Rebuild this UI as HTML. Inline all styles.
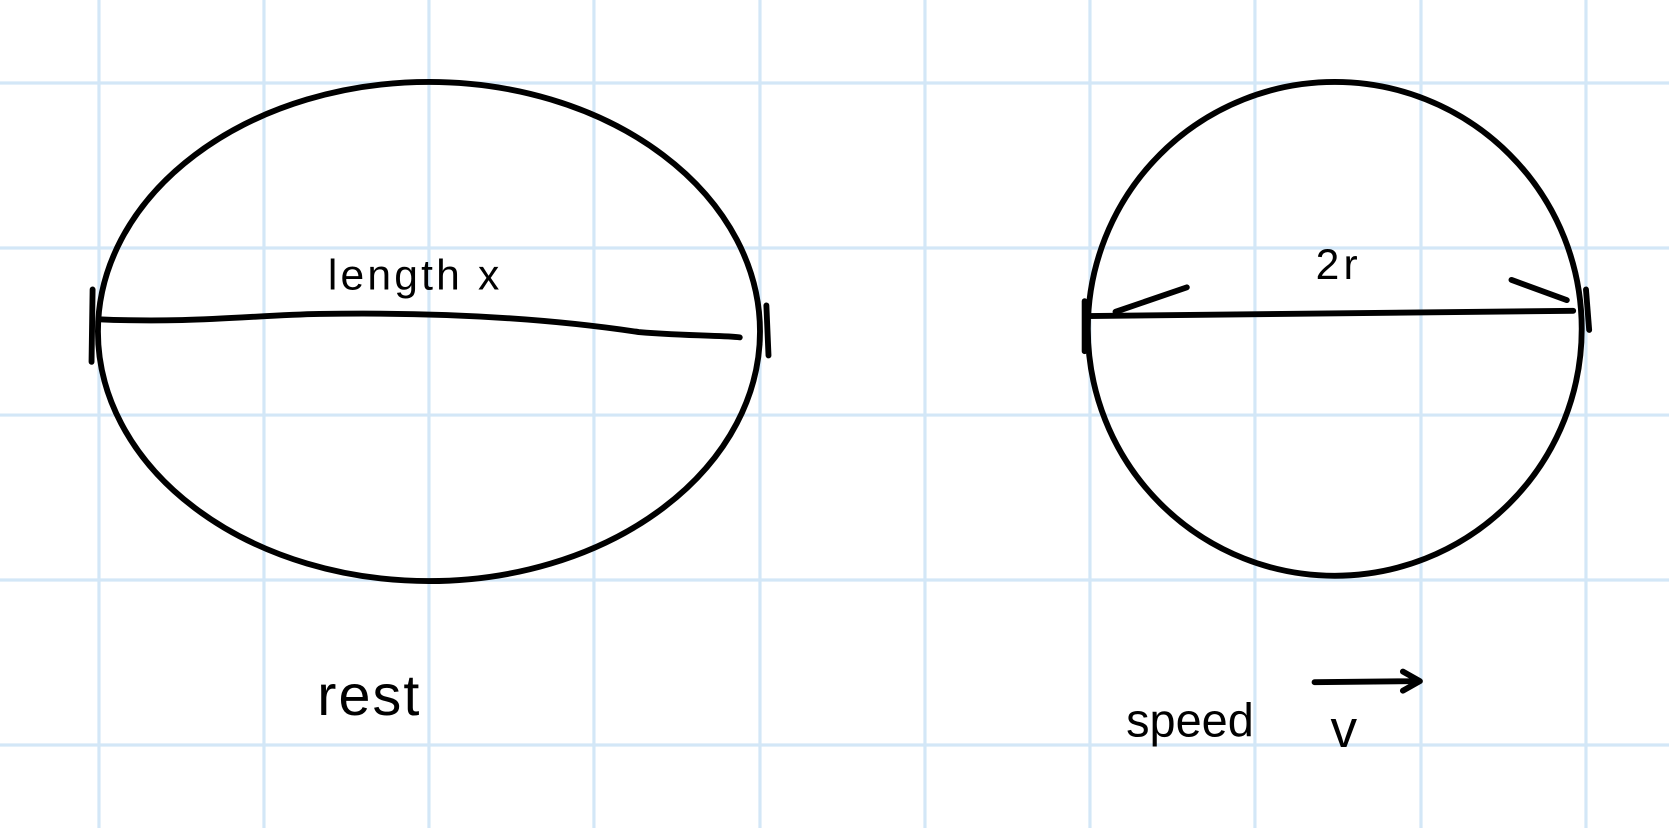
<!DOCTYPE html>
<html><head><meta charset="utf-8"><style>
html,body{margin:0;padding:0;background:#fff;}
svg{display:block;}
text{font-family:"Liberation Sans",sans-serif;fill:#000;}
</style></head><body>
<svg width="1669" height="828" viewBox="0 0 1568 778" preserveAspectRatio="none" xmlns="http://www.w3.org/2000/svg">
<g stroke="#d3e7f7" stroke-width="3">
<line x1="93" y1="0" x2="93" y2="778"/><line x1="248" y1="0" x2="248" y2="778"/>
<line x1="403" y1="0" x2="403" y2="778"/><line x1="558" y1="0" x2="558" y2="778"/>
<line x1="714" y1="0" x2="714" y2="778"/><line x1="869" y1="0" x2="869" y2="778"/>
<line x1="1024" y1="0" x2="1024" y2="778"/><line x1="1179" y1="0" x2="1179" y2="778"/>
<line x1="1335" y1="0" x2="1335" y2="778"/><line x1="1490" y1="0" x2="1490" y2="778"/>
<line x1="0" y1="78" x2="1568" y2="78"/><line x1="0" y1="233" x2="1568" y2="233"/>
<line x1="0" y1="390" x2="1568" y2="390"/><line x1="0" y1="545" x2="1568" y2="545"/>
<line x1="0" y1="700" x2="1568" y2="700"/>
</g>
<g fill="none" stroke="#000" stroke-width="5.5" stroke-linecap="round" stroke-linejoin="round">
<ellipse cx="403" cy="311.5" rx="311" ry="234.5"/>
<path d="M93,300 C180,304 240,296 300,295 C420,293 520,300 600,312 C650,316 680,315 695,317"/>
<line x1="87" y1="272" x2="86" y2="340"/>
<line x1="720" y1="287" x2="722" y2="334"/>
<ellipse cx="1254" cy="309" rx="232" ry="232"/>
<path d="M1022,297 C1150,296 1300,295 1478,292"/>
<line x1="1019" y1="283" x2="1019" y2="330"/>
<line x1="1490" y1="272" x2="1493" y2="310"/>
<path d="M1048,293 L1115,270"/>
<path d="M1420,263 L1472,282"/>
<path d="M1235,641 L1333,640 M1318,631 L1334,640 L1318,649"/>
</g>
<text x="308" y="272" font-size="40" letter-spacing="3">length  x</text>
<text x="1236" y="262" font-size="40" letter-spacing="4">2r</text>
<text x="298" y="672" font-size="54" letter-spacing="2">rest</text>
<text x="1058" y="692" font-size="44">speed</text>
<text x="1250" y="702" font-size="50">v</text>
</svg>
</body></html>
